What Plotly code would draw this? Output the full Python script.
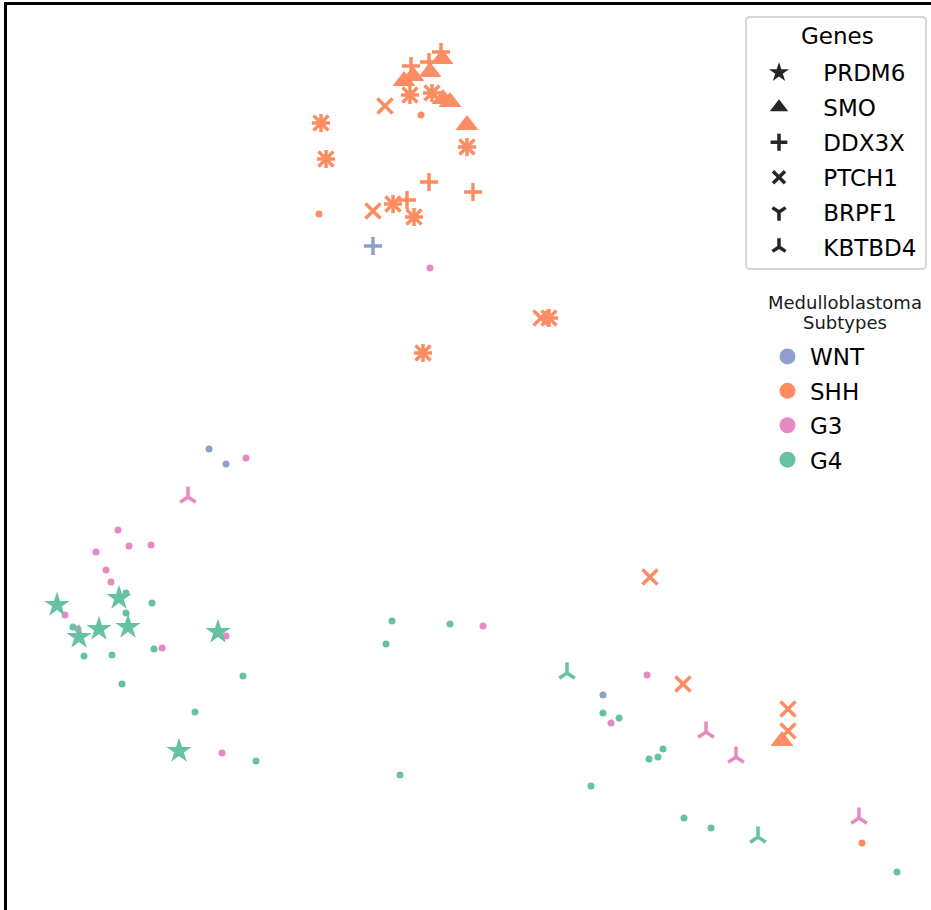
import plotly.graph_objects as go

# UMAP-style embedding of medulloblastoma samples, grouped by subtype.
# gene = None marks samples with no highlighted driver mutation.
subtypes = ["WNT", "SHH", "G3", "G4"]
subtype_colors = {"WNT": "#8da0cb", "SHH": "#fc8d62", "G3": "#e78ac3", "G4": "#66c2a5"}

genes = ["PRDM6", "SMO", "DDX3X", "PTCH1", "BRPF1", "KBTBD4"]
gene_symbols = {"PRDM6": "star", "SMO": "triangle-up", "DDX3X": "cross-thin",
                "PTCH1": "x-thin", "BRPF1": "y-down", "KBTBD4": "y-up"}
gene_sizes = {"PRDM6": 19, "SMO": 20, "DDX3X": 13, "PTCH1": 15, "BRPF1": 13, "KBTBD4": 13}

wnt_x = [36.6, 20.2, 21.9, 59.6]
wnt_y = [66.4, 46.1, 44.6, 21.5]
wnt_gene = ["DDX3X", None, None, None]

shh_x = [37.8, 36.6, 64.3, 67.6, 78.1, 78.1, 53.4,
         40.3, 42.5, 31.4, 31.9, 46.0, 38.6, 40.7, 54.2, 41.6,
         40.3, 42.5, 31.4, 31.9, 46.0, 38.6, 40.7, 54.2, 41.6,
         42.2, 46.6, 40.0, 40.4, 43.4, 42.2,
         43.5, 42.3, 40.6, 39.7, 43.6, 44.3, 46.0, 77.5,
         41.4, 31.2, 85.5]
shh_y = [80.4, 69.9, 33.3, 22.6, 20.1, 17.9, 59.2,
         81.5, 81.7, 78.7, 75.1, 76.3, 70.6, 69.3, 59.2, 55.7,
         81.5, 81.7, 78.7, 75.1, 76.3, 70.6, 69.3, 59.2, 55.7,
         72.8, 71.8, 71.0, 84.4, 85.8, 84.8,
         85.1, 83.8, 83.4, 82.9, 81.1, 80.8, 78.5, 16.9,
         79.5, 69.6, 6.7]
shh_gene = (["PTCH1"] * 7 + ["PTCH1"] * 9 + ["DDX3X"] * 9 + ["DDX3X"] * 6
            + ["SMO"] * 8 + [None] * 3)

g3_x = [18.1, 69.9, 72.9, 85.2,
        42.3, 23.9, 11.1, 12.2, 14.4, 8.9, 9.9, 10.4, 5.8, 7.1,
        21.9, 15.5, 21.5, 47.6, 64.0, 60.4]
g3_y = [41.3, 17.8, 15.3, 9.2,
        64.2, 45.2, 38.0, 36.4, 36.5, 35.8, 34.0, 32.8, 29.5, 28.1,
        27.4, 26.2, 15.7, 28.4, 23.5, 18.7]
g3_gene = ["KBTBD4"] * 4 + [None] * 16

g4_x = [5.0, 11.2, 9.2, 12.1, 7.2, 21.1, 17.2,
        56.0, 75.1,
        11.9, 14.5, 11.9, 6.6, 14.7, 7.7, 10.5, 11.5, 23.6, 18.8, 24.9,
        38.5, 44.3, 37.9, 39.3, 59.6, 61.2, 65.6, 65.1, 64.2, 58.4,
        67.7, 70.4, 89.0]
g4_y = [30.5, 31.2, 28.1, 28.3, 27.3, 27.8, 15.9,
        23.7, 7.3,
        31.7, 30.7, 29.7, 28.3, 26.1, 25.4, 25.5, 22.6, 23.4, 19.8, 14.9,
        28.9, 28.6, 26.6, 13.5, 19.7, 19.2, 16.1, 15.3, 15.1, 12.4,
        9.2, 8.2, 3.8]
g4_gene = ["PRDM6"] * 7 + ["KBTBD4"] * 2 + [None] * 24

samples = {
    "WNT": (wnt_x, wnt_y, wnt_gene),
    "SHH": (shh_x, shh_y, shh_gene),
    "G3": (g3_x, g3_y, g3_gene),
    "G4": (g4_x, g4_y, g4_gene),
}

FILLED = {"star", "triangle-up"}

# Figure geometry (pixels) and helpers to place layout items in paper units.
W, H = 931, 910
ML, MT = 7, 5


def px_x(p):
    return (p - ML) / (W - ML)


def px_y(p):
    return (H - p) / (H - MT)


def marker_style(symbol, color, size, lw=3.5):
    if symbol in FILLED:
        return dict(symbol=symbol, size=size, color=color, line=dict(width=0))
    return dict(symbol=symbol, size=size, color=color, line=dict(width=lw, color=color))


fig = go.Figure()

# Samples without a highlighted mutation: small dots, drawn underneath.
for st in subtypes:
    xs, ys, gs = samples[st]
    px_ = [x for x, g in zip(xs, gs) if g is None]
    py_ = [y for y, g in zip(ys, gs) if g is None]
    if px_:
        fig.add_trace(go.Scatter(
            x=px_, y=py_, mode="markers", showlegend=False, hoverinfo="skip",
            marker=dict(symbol="circle", size=7, color=subtype_colors[st], line=dict(width=0)),
        ))

# Mutated samples: one marker shape per gene, coloured by subtype.
for st in subtypes:
    xs, ys, gs = samples[st]
    for gene in genes:
        px_ = [x for x, g in zip(xs, gs) if g == gene]
        py_ = [y for y, g in zip(ys, gs) if g == gene]
        if px_:
            fig.add_trace(go.Scatter(
                x=px_, y=py_, mode="markers", showlegend=False,
                name=f"{st} / {gene}",
                marker=marker_style(gene_symbols[gene], subtype_colors[st], gene_sizes[gene]),
            ))

# Legend entries: gene shapes in dark grey.
legend_sizes = {"PRDM6": 15, "SMO": 16, "DDX3X": 12, "PTCH1": 12, "BRPF1": 11, "KBTBD4": 11}
for gene in genes:
    fig.add_trace(go.Scatter(
        x=[None], y=[None], mode="markers", name=" " + gene, legend="legend",
        legendgroup=gene,
        marker=marker_style(gene_symbols[gene], "#262626", legend_sizes[gene], lw=3.5),
    ))

# Legend entries: subtype colours.
for st in subtypes:
    fig.add_trace(go.Scatter(
        x=[None], y=[None], mode="markers", name=st, legend="legend2",
        legendgroup=st,
        marker=dict(symbol="circle", size=16, color=subtype_colors[st]),
    ))

axis_common = dict(showgrid=False, zeroline=False, showticklabels=False, ticks="",
                   showline=True, linecolor="black", linewidth=2.5, fixedrange=True)

# Rounded frame behind the gene legend.
bx0, bx1, by0, by1, rad = 746, 926, 17, 269, 4
frame = (
    f"M {px_x(bx0 + rad)},{px_y(by0)} L {px_x(bx1 - rad)},{px_y(by0)} "
    f"Q {px_x(bx1)},{px_y(by0)} {px_x(bx1)},{px_y(by0 + rad)} "
    f"L {px_x(bx1)},{px_y(by1 - rad)} "
    f"Q {px_x(bx1)},{px_y(by1)} {px_x(bx1 - rad)},{px_y(by1)} "
    f"L {px_x(bx0 + rad)},{px_y(by1)} "
    f"Q {px_x(bx0)},{px_y(by1)} {px_x(bx0)},{px_y(by1 - rad)} "
    f"L {px_x(bx0)},{px_y(by0 + rad)} "
    f"Q {px_x(bx0)},{px_y(by0)} {px_x(bx0 + rad)},{px_y(by0)} Z"
)
fig.add_shape(type="path", path=frame, xref="paper", yref="paper", layer="above",
              fillcolor="rgba(255,255,255,0.8)", line=dict(color="#d5d5d5", width=1.8))

# Legend titles.
fig.add_annotation(text="Genes", x=px_x(837), y=px_y(36), xref="paper", yref="paper",
                   showarrow=False, xanchor="center", yanchor="middle",
                   font=dict(size=23, color="#000000"))
fig.add_annotation(text="Medulloblastoma", x=px_x(845), y=px_y(302), xref="paper", yref="paper",
                   showarrow=False, xanchor="center", yanchor="middle",
                   font=dict(size=18, color="#1a1a1a"))
fig.add_annotation(text="Subtypes", x=px_x(845), y=px_y(323), xref="paper", yref="paper",
                   showarrow=False, xanchor="center", yanchor="middle",
                   font=dict(size=18, color="#1a1a1a"))

fig.update_layout(
    width=W, height=H,
    margin=dict(l=ML, r=0, t=MT, b=0),
    paper_bgcolor="white", plot_bgcolor="white",
    font=dict(family="DejaVu Sans", color="#000000"),
    xaxis=dict(range=[0, 92.4], side="top", **axis_common),
    yaxis=dict(range=[0, 90.5], side="left", **axis_common),
    legend=dict(
        x=px_x(742), xanchor="left", y=px_y(51), yanchor="top",
        bgcolor="rgba(0,0,0,0)", borderwidth=0,
        font=dict(size=23, color="#000000"),
        itemwidth=64, tracegroupgap=2, traceorder="grouped",
    ),
    legend2=dict(
        x=px_x(765), xanchor="left", y=px_y(335), yanchor="top",
        bgcolor="rgba(0,0,0,0)", borderwidth=0,
        font=dict(size=23, color="#000000"),
        itemwidth=35, tracegroupgap=1.5, traceorder="grouped",
    ),
)

fig.write_html("out.html")
